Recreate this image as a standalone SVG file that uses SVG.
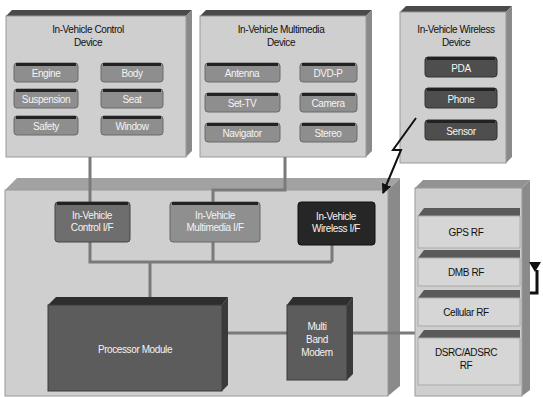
<svg xmlns="http://www.w3.org/2000/svg" width="543" height="397" viewBox="0 0 543 397">
<defs>
<style>
text{font-family:"Liberation Sans",Arial,sans-serif;text-anchor:middle}
.panel{fill:#cfcfcf;stroke:#9a9a9a;stroke-width:1}
.top{fill:#4a4a4a}
.side{fill:#8a8a8a}
.title{font-size:10px;fill:#111;letter-spacing:-0.4px}
.btn{fill:#8e8e8e;stroke:#6a6a6a;stroke-width:1}
.btnw{fill:#4e4e4e;stroke:#333;stroke-width:1}
.btop{fill:none;stroke:#222;stroke-width:3}
.bt{font-size:10px;fill:#f4f4f4;letter-spacing:-0.4px}
.conn{fill:none;stroke:#7a7a7a;stroke-width:3}
.rfb{fill:#d6d6d6;stroke:#aaa;stroke-width:1}
.rft{fill:#5a5a5a}
.rftx{font-size:10px;fill:#111;letter-spacing:-0.4px}
</style>
<marker id="arr" viewBox="0 0 10 10" refX="9" refY="5" markerWidth="5" markerHeight="5" orient="auto"><path d="M0,0 L10,5 L0,10 z" fill="#111"/></marker>
</defs>
<rect width="543" height="397" fill="#fff"/>

<g id="main-panel">
<polygon points="5,190 17,178 400,178 388,190" fill="#a2a2a2"/>
<polygon class="side" points="388,190 400,178 400,386 388,396"/>
<rect class="panel" x="5" y="190" width="383" height="206"/>
</g>

<g id="control-device">
<polygon class="top" points="6,16 12,10 192,10 186,16"/>
<polygon class="side" points="186,16 192,10 192,151 186,157"/>
<rect class="panel" x="6" y="16" width="180" height="141"/>
<text class="title" x="88" y="33">In-Vehicle Control</text>
<text class="title" x="88" y="46">Device</text>
<g id="btn-engine"><rect class="btn" x="14" y="63" width="64" height="19" rx="3"/><path class="btop" d="M16,64.5 H76"/><text class="bt" x="46" y="77">Engine</text></g>
<g id="btn-body"><rect class="btn" x="101" y="63" width="62" height="19" rx="3"/><path class="btop" d="M103,64.5 H161"/><text class="bt" x="132" y="77">Body</text></g>
<g id="btn-suspension"><rect class="btn" x="14" y="89" width="64" height="19" rx="3"/><path class="btop" d="M16,90.5 H76"/><text class="bt" x="46" y="103">Suspension</text></g>
<g id="btn-seat"><rect class="btn" x="101" y="89" width="62" height="19" rx="3"/><path class="btop" d="M103,90.5 H161"/><text class="bt" x="132" y="103">Seat</text></g>
<g id="btn-safety"><rect class="btn" x="14" y="116" width="64" height="19" rx="3"/><path class="btop" d="M16,117.5 H76"/><text class="bt" x="46" y="130">Safety</text></g>
<g id="btn-window"><rect class="btn" x="101" y="116" width="62" height="19" rx="3"/><path class="btop" d="M103,117.5 H161"/><text class="bt" x="132" y="130">Window</text></g>
</g>

<g id="multimedia-device">
<polygon class="top" points="200,16 206,10 372,10 366,16"/>
<polygon class="side" points="366,16 372,10 372,151 366,157"/>
<rect class="panel" x="200" y="16" width="166" height="141"/>
<text class="title" x="281" y="33">In-Vehicle Multimedia</text>
<text class="title" x="281" y="46">Device</text>
<g id="btn-antenna"><rect class="btn" x="205" y="63" width="75" height="19" rx="3"/><path class="btop" d="M207,64.5 H278"/><text class="bt" x="242" y="77">Antenna</text></g>
<g id="btn-dvd"><rect class="btn" x="300" y="63" width="57" height="19" rx="3"/><path class="btop" d="M302,64.5 H355"/><text class="bt" x="328" y="77">DVD-P</text></g>
<g id="btn-settv"><rect class="btn" x="205" y="93" width="75" height="19" rx="3"/><path class="btop" d="M207,94.5 H278"/><text class="bt" x="242" y="107">Set-TV</text></g>
<g id="btn-camera"><rect class="btn" x="300" y="93" width="57" height="19" rx="3"/><path class="btop" d="M302,94.5 H355"/><text class="bt" x="328" y="107">Camera</text></g>
<g id="btn-navigator"><rect class="btn" x="205" y="123" width="75" height="19" rx="3"/><path class="btop" d="M207,124.5 H278"/><text class="bt" x="242" y="137">Navigator</text></g>
<g id="btn-stereo"><rect class="btn" x="300" y="123" width="57" height="19" rx="3"/><path class="btop" d="M302,124.5 H355"/><text class="bt" x="328" y="137">Stereo</text></g>
</g>

<g id="wireless-device">
<polygon class="top" points="400,12 406,6 512,6 506,12"/>
<polygon class="side" points="506,12 512,6 512,157 506,163"/>
<rect class="panel" x="400" y="12" width="106" height="151"/>
<text class="title" x="456" y="33">In-Vehicle Wireless</text>
<text class="title" x="456" y="46">Device</text>
<g id="btn-pda"><rect class="btnw" x="425" y="57" width="72" height="20" rx="3"/><path class="btop" d="M427,58.5 H495"/><text class="bt" x="461" y="72">PDA</text></g>
<g id="btn-phone"><rect class="btnw" x="425" y="88" width="72" height="20" rx="3"/><path class="btop" d="M427,89.5 H495"/><text class="bt" x="461" y="103">Phone</text></g>
<g id="btn-sensor"><rect class="btnw" x="425" y="120" width="72" height="20" rx="3"/><path class="btop" d="M427,121.5 H495"/><text class="bt" x="461" y="135">Sensor</text></g>
</g>

<g id="connectors">
<path class="conn" d="M90,157 V202 M90,242 V262 H332 M213,242 V262 M332,245 V262 M150,262 V297"/>
<path class="conn" d="M285,157 V190 H213 V202"/>
<path class="conn" d="M228,333 H287 M353,333 H415"/>
<path fill="none" stroke="#111" stroke-width="3" d="M522,293 H537 V270"/>
<polyline fill="none" stroke="#111" stroke-width="2" points="416,118 393,150 401,150 383,193" marker-end="url(#arr)"/>
</g>

<g id="control-if">
<rect x="55" y="202" width="75" height="40" rx="3" fill="#6e6e6e" stroke="#444"/>
<path class="btop" d="M57,203.5 H128"/>
<text class="bt" x="92" y="219">In-Vehicle</text>
<text class="bt" x="92" y="231">Control I/F</text>
</g>
<g id="multimedia-if">
<rect x="170" y="202" width="90" height="40" rx="3" fill="#8f8f8f" stroke="#666"/>
<path class="btop" d="M172,203.5 H258"/>
<text class="bt" x="215" y="219">In-Vehicle</text>
<text class="bt" x="215" y="231">Multimedia I/F</text>
</g>
<g id="wireless-if">
<rect x="298" y="202" width="77" height="43" rx="3" fill="#262626" stroke="#111"/>
<text class="bt" x="336" y="220">In-Vehicle</text>
<text class="bt" x="336" y="232">Wireless I/F</text>
</g>

<g id="processor-module">
<polygon points="48,305 56,297 228,297 222,305" fill="#2e2e2e"/>
<polygon points="222,305 228,297 228,385 222,391" fill="#3a3a3a"/>
<rect x="48" y="305" width="174" height="86" fill="#5c5c5c" stroke="#3a3a3a"/>
<text class="bt" x="135" y="353">Processor Module</text>
</g>

<g id="modem">
<polygon points="287,305 293,297 353,297 347,305" fill="#2e2e2e"/>
<polygon points="347,305 353,297 353,374 347,380" fill="#3a3a3a"/>
<rect x="287" y="305" width="60" height="75" fill="#5c5c5c" stroke="#3a3a3a"/>
<text class="bt" x="317" y="330">Multi</text>
<text class="bt" x="317" y="343">Band</text>
<text class="bt" x="317" y="356">Modem</text>
</g>

<g id="rf-panel">
<polygon class="top" points="415,188 423,180 530,180 522,188" fill-opacity="0.6"/>
<polygon class="side" points="522,188 530,180 530,390 522,396"/>
<rect class="panel" x="415" y="188" width="107" height="208"/>
<g id="gps-rf"><polygon class="rft" points="418,216 424,208 520,208 520,216"/><rect class="rfb" x="418" y="216" width="102" height="32"/><text class="rftx" x="466" y="236">GPS RF</text></g>
<g id="dmb-rf"><polygon class="rft" points="418,258 424,250 520,250 520,258"/><rect class="rfb" x="418" y="258" width="102" height="28"/><text class="rftx" x="466" y="276">DMB RF</text></g>
<g id="cellular-rf"><polygon class="rft" points="418,298 424,290 520,290 520,298"/><rect class="rfb" x="418" y="298" width="102" height="28"/><text class="rftx" x="466" y="316">Cellular RF</text></g>
<g id="dsrc-rf"><polygon class="rft" points="418,338 424,330 520,330 520,338"/><rect class="rfb" x="418" y="338" width="102" height="47"/><text class="rftx" x="466" y="356">DSRC/ADSRC</text><text class="rftx" x="466" y="369">RF</text></g>
</g>

<g id="antenna">
<polygon points="529,262 541,262 535,272" fill="#111"/>
</g>
</svg>
